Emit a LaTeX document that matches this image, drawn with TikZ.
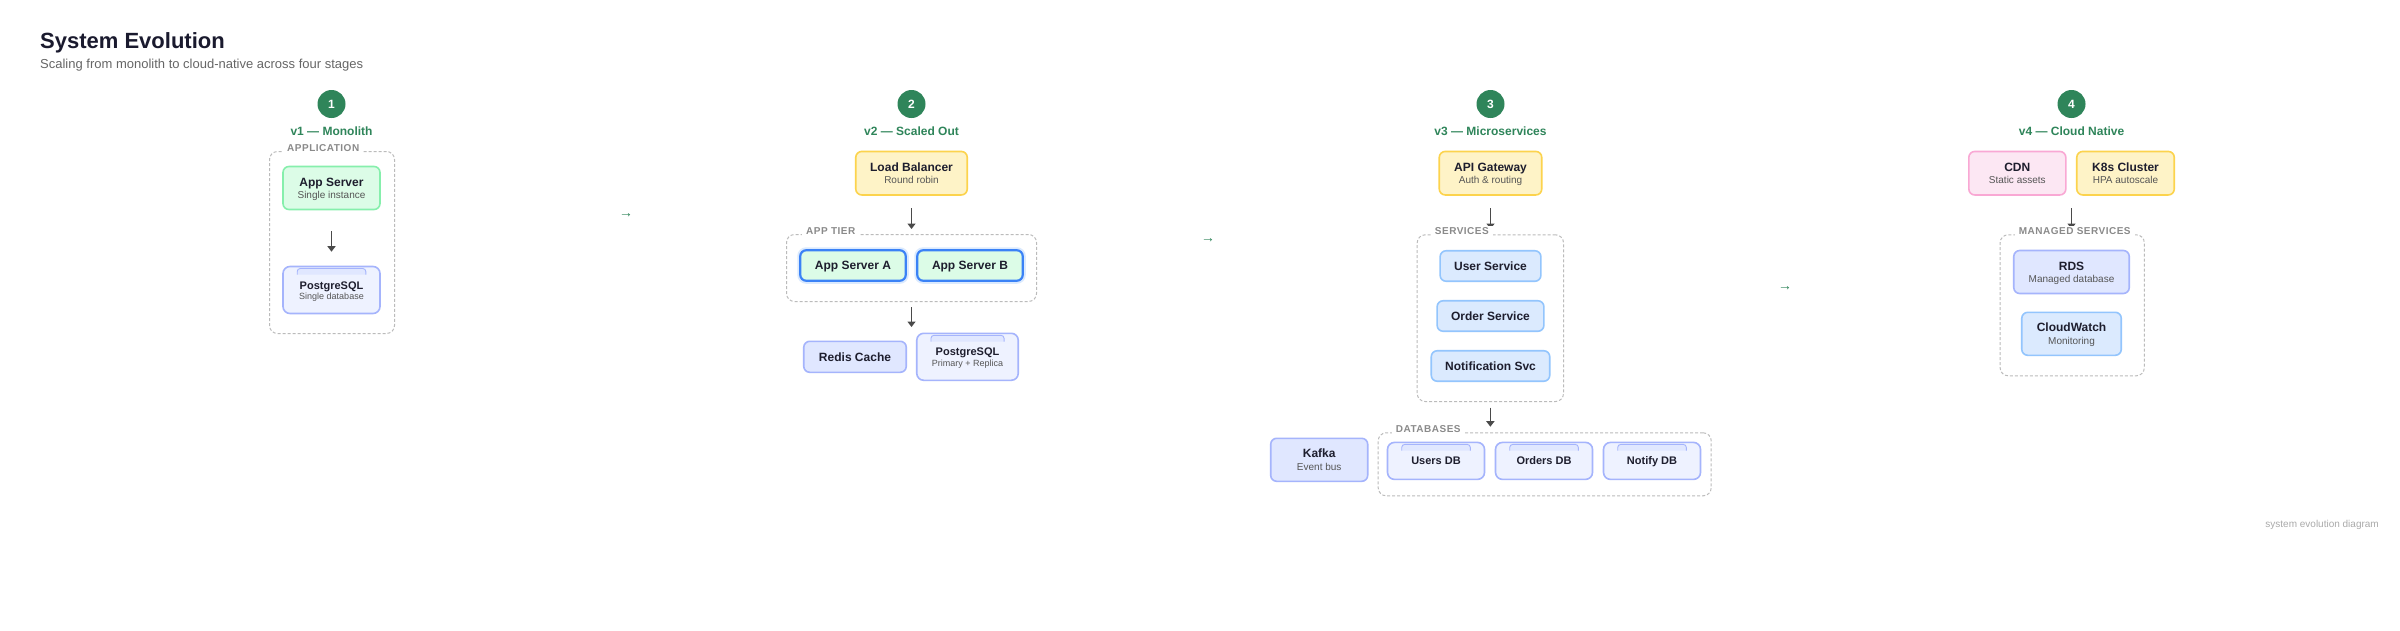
\documentclass[tikz,border=0pt]{standalone}
\usepackage{fontspec}
\setmainfont{Liberation Sans}
\newfontfamily\capfont[LetterSpace=5]{Liberation Sans}
\usetikzlibrary{arrows.meta,calc}
\definecolor{titleink}{HTML}{1A1A2E}
\definecolor{ink}{HTML}{1E1E2E}
\definecolor{subtle}{HTML}{666666}
\definecolor{subgray}{HTML}{555555}
\definecolor{labgray}{HTML}{8A8A8A}
\definecolor{footgray}{HTML}{AAAAAA}
\definecolor{sgreen}{HTML}{2F855A}
\definecolor{flowgray}{HTML}{4A4A4A}
\definecolor{contline}{HTML}{BBBBBB}
\definecolor{gfill}{HTML}{DCFCE7}
\definecolor{gline}{HTML}{86EFAC}
\definecolor{yfill}{HTML}{FEF3C7}
\definecolor{yline}{HTML}{FCD34D}
\definecolor{ifill}{HTML}{E0E7FF}
\definecolor{iline}{HTML}{A5B4FC}
\definecolor{bfill}{HTML}{DBEAFE}
\definecolor{bline}{HTML}{93C5FD}
\definecolor{pfill}{HTML}{FCE7F3}
\definecolor{pline}{HTML}{F9A8D4}
\definecolor{dbfill}{HTML}{EEF2FF}
\definecolor{selline}{HTML}{3B82F6}
\definecolor{halo}{HTML}{DBEAFE}
\tikzset{
  bx/.style={rounded corners=6pt, line width=1.6pt, inner sep=0pt},
  gbox/.style={bx, fill=gfill, draw=gline},
  ybox/.style={bx, fill=yfill, draw=yline},
  ibox/.style={bx, fill=ifill, draw=iline},
  bbox/.style={bx, fill=bfill, draw=bline},
  pbox/.style={bx, fill=pfill, draw=pline},
  dbbox/.style={bx, rounded corners=7pt, fill=dbfill, draw=iline},
  selbox/.style={bx, fill=gfill, draw=selline, line width=2.2pt,
     preaction={draw=halo, line width=6pt}},
  capstyle/.style={fill=ifill, draw=iline, line width=0.9pt, rounded corners=3pt},
  cont/.style={draw=contline, dashed, dash pattern=on 3pt off 2pt, line width=1pt,
     rounded corners=8pt, inner sep=0pt, anchor=north west},
  clab/.style={anchor=base west, fill=white, inner xsep=4pt, inner ysep=2pt,
     font=\capfont\fontsize{10}{12}\selectfont\bfseries, text=labgray},
  ttl/.style={anchor=base, inner sep=0pt, font=\fontsize{12}{14}\selectfont\bfseries, text=ink},
  subt/.style={anchor=base, inner sep=0pt, font=\fontsize{10}{12}\selectfont, text=subgray},
  dbt/.style={anchor=base, inner sep=0pt, font=\fontsize{11}{13}\selectfont\bfseries, text=ink},
  dbs/.style={anchor=base, inner sep=0pt, font=\fontsize{9}{11}\selectfont, text=subgray},
  stepnum/.style={circle, fill=sgreen, minimum size=28pt, inner sep=0pt, text=white,
     font=\fontsize{12}{14}\selectfont\bfseries},
  stagelab/.style={anchor=base, inner sep=0pt, font=\fontsize{12}{14}\selectfont\bfseries, text=sgreen},
  stagearrow/.style={inner sep=0pt, font=\fontsize{14}{16}\selectfont, text=sgreen},
  flow/.style={draw=flowgray, line width=1.5pt, -{Triangle[width=8pt,length=5.5pt]}},
}
\newcommand\dbcap[1]{%
  \filldraw[capstyle] ($(#1.north west)+(15,9)$) -- ($(#1.north west)+(15,2.8)$)
     -- ($(#1.north east)+(-15,2.8)$) -- ($(#1.north east)+(-15,9)$);}
\begin{document}
\begin{tikzpicture}[x=1pt,y=-1pt]
\useasboundingbox[fill=white] (0,0) rectangle (2400,630);

% header
\node[anchor=base west, inner sep=0pt, font=\fontsize{22}{26}\selectfont\bfseries, text=titleink] (title) at (40,48) {System Evolution};
\node[anchor=base west, inner sep=0pt, font=\fontsize{13}{16}\selectfont, text=subtle] (subtitle) at (40,68.5) {Scaling from monolith to cloud-native across four stages};

% ---------- stage 1 ----------
\node[stepnum] (n1) at (331.5,104) {1};
\node[stagelab] (s1) at (331.5,135) {v1 — Monolith};
\node[cont, minimum width=125pt, minimum height=182pt] (c1) at (269,151) {};
\node[gbox, minimum width=97pt, minimum height=43pt] (app1) at (331.5,188) {};
\node[ttl] (app1t) at ([yshift=2pt]app1.center) {App Server};
\node[subt] (app1s) at ([yshift=-10.5pt]app1.center) {Single instance};
\node[dbbox, minimum width=97pt, minimum height=47pt] (pg1) at (331.5,290) {};
\dbcap{pg1}
\node[dbt] (pg1t) at ([yshift=1pt]pg1.center) {PostgreSQL};
\node[dbs] (pg1s) at ([yshift=-9.4pt]pg1.center) {Single database};
\draw[flow, shorten <=21pt, shorten >=14pt] (app1) -- (pg1);
\node[clab] (c1l) at ([xshift=14pt,yshift=-0.5pt]c1.north west) {APPLICATION};

\node[stagearrow] (a12) at (626,216) {→};

% ---------- stage 2 ----------
\node[stepnum] (n2) at (911.5,104) {2};
\node[stagelab] (s2) at (911.5,135) {v2 — Scaled Out};
\node[ybox, minimum width=111.5pt, minimum height=43.5pt] (lb) at (911.5,173.2) {};
\node[ttl] (lbt) at ([yshift=2pt]lb.center) {Load Balancer};
\node[subt] (lbs) at ([yshift=-10.5pt]lb.center) {Round robin};
\node[cont, minimum width=250pt, minimum height=67pt] (c2) at (786,234) {};
\node[selbox, minimum width=105.5pt, minimum height=30.5pt] (asa) at (853,265.5) {};
\node[ttl] (asat) at ([yshift=-4.3pt]asa.center) {App Server A};
\node[selbox, minimum width=105.5pt, minimum height=30.5pt] (asb) at (970,265.5) {};
\node[ttl] (asbt) at ([yshift=-4.3pt]asb.center) {App Server B};
\node[ibox, minimum width=102.5pt, minimum height=31pt] (redis) at (855,356.8) {};
\node[ttl] (redist) at ([yshift=-4.3pt]redis.center) {Redis Cache};
\node[dbbox, minimum width=101.5pt, minimum height=47pt] (pg2) at (967.5,356.8) {};
\dbcap{pg2}
\node[dbt] (pg2t) at ([yshift=1pt]pg2.center) {PostgreSQL};
\node[dbs] (pg2s) at ([yshift=-9.4pt]pg2.center) {Primary + Replica};
\coordinate (row2) at (911.5,332.7);
\draw[flow, shorten <=12.3pt, shorten >=5pt] (lb.south) -- (lb.south |- c2.north);
\draw[flow, shorten <=5pt, shorten >=5.7pt] (c2.south) -- (row2);
\node[clab] (c2l) at ([xshift=16pt,yshift=-0.5pt]c2.north west) {APP TIER};

\node[stagearrow] (a23) at (1208,241) {→};

% ---------- stage 3 ----------
\node[stepnum] (n3) at (1490.5,104) {3};
\node[stagelab] (s3) at (1490.5,135) {v3 — Microservices};
\node[ybox, minimum width=102.5pt, minimum height=43.5pt] (api) at (1490.5,173.2) {};
\node[ttl] (apit) at ([yshift=2pt]api.center) {API Gateway};
\node[subt] (apis) at ([yshift=-10.5pt]api.center) {Auth \& routing};
\node[cont, minimum width=146.3pt, minimum height=166.7pt] (c3) at (1416.7,234.3) {};
\node[bbox, minimum width=100.8pt, minimum height=30.5pt] (usvc) at (1490.5,266) {};
\node[ttl] (usvct) at ([yshift=-4.3pt]usvc.center) {User Service};
\node[bbox, minimum width=106.8pt, minimum height=30.5pt] (osvc) at (1490.5,316) {};
\node[ttl] (osvct) at ([yshift=-4.3pt]osvc.center) {Order Service};
\node[bbox, minimum width=118.5pt, minimum height=30.5pt] (nsvc) at (1490.5,366) {};
\node[ttl] (nsvct) at ([yshift=-4.3pt]nsvc.center) {Notification Svc};
\node[cont, minimum width=333pt, minimum height=63pt] (c3d) at (1377.7,432.3) {};
\node[dbbox, minimum width=97pt, minimum height=37pt] (udb) at (1436,460.9) {};
\dbcap{udb}
\node[dbt] (udbt) at ([yshift=-4pt]udb.center) {Users DB};
\node[dbbox, minimum width=97pt, minimum height=37pt] (odb) at (1544,460.9) {};
\dbcap{odb}
\node[dbt] (odbt) at ([yshift=-4pt]odb.center) {Orders DB};
\node[dbbox, minimum width=97pt, minimum height=37pt] (ndb) at (1652,460.9) {};
\dbcap{ndb}
\node[dbt] (ndbt) at ([yshift=-4pt]ndb.center) {Notify DB};
\node[ibox, minimum width=97pt, minimum height=43pt] (kafka) at (1319.2,459.8) {};
\node[ttl] (kafkat) at ([yshift=2pt]kafka.center) {Kafka};
\node[subt] (kafkas) at ([yshift=-10.5pt]kafka.center) {Event bus};
\draw[flow, shorten <=12.3pt, shorten >=5.3pt] (api.south) -- (api.south |- c3.north);
\draw[flow, shorten <=5.7pt, shorten >=5.6pt] (c3.south) -- (c3.south |- c3d.north);
\node[clab] (c3l) at ([xshift=14pt,yshift=-0.5pt]c3.north west) {SERVICES};
\node[clab] (c3dl) at ([xshift=14pt,yshift=-0.5pt]c3d.north west) {DATABASES};

\node[stagearrow] (a34) at (1785,289) {→};

% ---------- stage 4 ----------
\node[stepnum] (n4) at (2071.5,104) {4};
\node[stagelab] (s4) at (2071.5,135) {v4 — Cloud Native};
\node[pbox, minimum width=97pt, minimum height=43.5pt] (cdn) at (2017.3,173.2) {};
\node[ttl] (cdnt) at ([yshift=2pt]cdn.center) {CDN};
\node[subt] (cdns) at ([yshift=-10.5pt]cdn.center) {Static assets};
\node[ybox, minimum width=97.5pt, minimum height=43.5pt] (k8s) at (2125.5,173.2) {};
\node[ttl] (k8st) at ([yshift=2pt]k8s.center) {K8s Cluster};
\node[subt] (k8ss) at ([yshift=-10.5pt]k8s.center) {HPA autoscale};
\node[cont, minimum width=144.2pt, minimum height=141pt] (c4) at (1999.6,234.3) {};
\node[ibox, minimum width=115.5pt, minimum height=43pt] (rds) at (2071.5,272) {};
\node[ttl] (rdst) at ([yshift=2pt]rds.center) {RDS};
\node[subt] (rdss) at ([yshift=-10.5pt]rds.center) {Managed database};
\node[bbox, minimum width=99.5pt, minimum height=43pt] (cw) at (2071.5,333.8) {};
\node[ttl] (cwt) at ([yshift=2pt]cw.center) {CloudWatch};
\node[subt] (cws) at ([yshift=-10.5pt]cw.center) {Monitoring};
\coordinate (top4) at (2071.5,195.7);
\draw[flow, shorten <=12.3pt, shorten >=5.3pt] (top4) -- (top4 |- c4.north);
\node[clab] (c4l) at ([xshift=15pt,yshift=-0.5pt]c4.north west) {MANAGED SERVICES};

% footer
\node[anchor=base east, inner sep=0pt, font=\fontsize{10}{12}\selectfont, text=footgray] (foot) at (2379,527) {system evolution diagram};
\end{tikzpicture}
\end{document}
